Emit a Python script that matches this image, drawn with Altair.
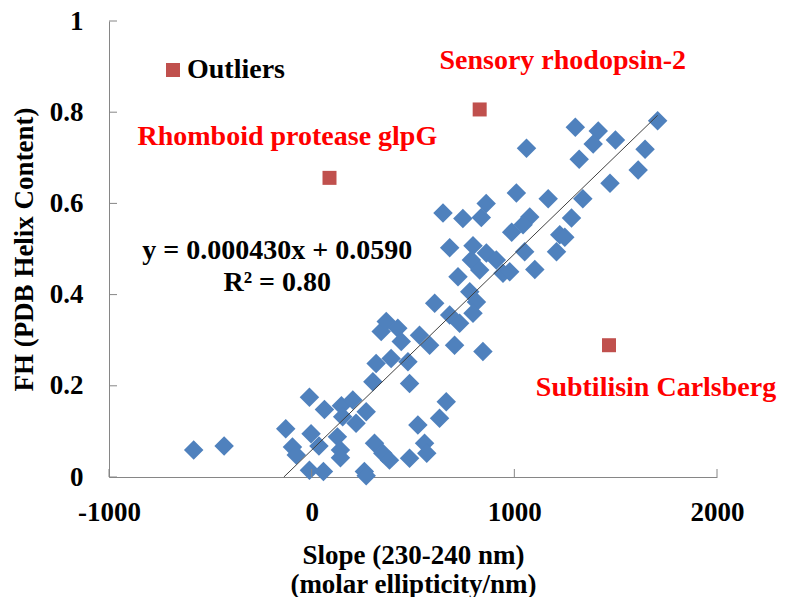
import altair as alt
import pandas as pd

# ---- data ----
slope = [-582, -432, -128, -95, -76, -11, -3, 36, -11, 58, 63, 147, 203, 269, 219, 153,
         127, 142, 142, 260, 269, 310, 351, 384, 483, 557, 568, 524, 631, 664, 302, 483,
         318, 392, 475, 343, 368, 425, 442, 532, 582, 705, 845, 607, 780, 813, 681, 730,
         796, 648, 746, 861, 837, 987, 681, 796, 862, 911, 788, 829, 944, 722, 1707, 1301,
         1414, 1389, 1499, 1645, 1060, 1320, 1611, 1472, 1010, 1167, 1338, 1282, 1076, 1043,
         1224, 1249, 1208, 1051, 1101, 977]
helix = [0.059, 0.068, 0.106, 0.066, 0.048, 0.175, 0.095, 0.068, 0.015, 0.012, 0.148, 0.156,
         0.169, 0.143, 0.118, 0.132, 0.088, 0.059, 0.042, 0.012, 0.003, 0.074, 0.052, 0.037,
         0.041, 0.074, 0.052, 0.114, 0.129, 0.165, 0.209, 0.205, 0.249, 0.260, 0.253, 0.319,
         0.341, 0.326, 0.297, 0.311, 0.289, 0.289, 0.275, 0.381, 0.406, 0.384, 0.355, 0.337,
         0.359, 0.579, 0.567, 0.600, 0.569, 0.537, 0.503, 0.507, 0.491, 0.476, 0.476, 0.454,
         0.447, 0.439, 0.781, 0.767, 0.759, 0.730, 0.739, 0.719, 0.721, 0.697, 0.673, 0.644,
         0.623, 0.610, 0.610, 0.568, 0.570, 0.553, 0.531, 0.526, 0.494, 0.494, 0.455, 0.450]

outlier_names = ["Rhomboid protease glpG", "Sensory rhodopsin-2", "Subtilisin Carlsberg"]
outlier_slope = [88, 829, 1467]
outlier_helix = [0.656, 0.806, 0.289]

# label anchors (data units)
label_text = ["Sensory rhodopsin-2", "Rhomboid protease glpG", "Subtilisin Carlsberg"]
label_x = [1239, -120, 1699]
label_y = [0.912, 0.746, 0.195]

eq_text = ["y = 0.000430x + 0.0590", "R² = 0.80"]
eq_x = [-170, -170]
eq_y = [0.496, 0.425]

coef = [0.000430, 0.0590]
x_ticks = [-1000, 0, 1000, 2000]
y_ticks = [0, 0.2, 0.4, 0.6, 0.8, 1.0]

FONT = "Liberation Serif"
W, H = 608, 456

pts = pd.DataFrame({"slope": slope, "helix": helix})
outl = pd.DataFrame({"slope": outlier_slope, "helix": outlier_helix,
                     "name": outlier_names, "series": ["Outliers"] * 3})
labels = pd.DataFrame({"x": label_x, "y": label_y, "t": label_text})
eqs = pd.DataFrame({"x": eq_x, "y": eq_y, "t": eq_text})
x_start = max(min(slope), -coef[1] / coef[0])
x_end = max(slope)
trend = pd.DataFrame({"slope": [x_start, x_end],
                      "helix": [coef[0] * x_start + coef[1], coef[0] * x_end + coef[1]]})
xt = pd.DataFrame({"v": x_ticks})
yt = pd.DataFrame({"v": y_ticks})

xscale = alt.Scale(domain=[-1000, 2000], nice=False, zero=False)
yscale = alt.Scale(domain=[0, 1], nice=False, zero=False)

xaxis = alt.Axis(values=x_ticks, labelExpr="'' + datum.value", ticks=False, tickSize=0,
                 labelFlush=False, labelPadding=22,
                 title=["Slope (230-240 nm)", "(molar ellipticity/nm)"],
                 titleY=65, titleBaseline="top", titleLineHeight=29)
yaxis = alt.Axis(values=y_ticks, format=".1~f", ticks=False, tickSize=0, labelPadding=26,
                 labelFlush=False,
                 title="FH (PDB Helix Content)", titleX=-85, titleY=H / 2,
                 titleAngle=270, titleAlign="center", titleBaseline="middle")

base_pts = alt.Chart(pts).mark_point(shape="diamond", filled=True, size=380, opacity=1,
                                     color="#4f81bd").encode(
    x=alt.X("slope:Q", scale=xscale, axis=xaxis),
    y=alt.Y("helix:Q", scale=yscale, axis=yaxis),
)

outl_layer = alt.Chart(outl).mark_square(size=196, opacity=1).encode(
    x=alt.X("slope:Q", scale=xscale),
    y=alt.Y("helix:Q", scale=yscale),
    color=alt.Color("series:N",
                    scale=alt.Scale(domain=["Outliers"], range=["#c0504d"]),
                    legend=alt.Legend(title=None, orient="none", legendX=50, legendY=35,
                                      symbolType="square", symbolSize=196, padding=0,
                                      labelOffset=0, labelFont=FONT, labelFontSize=28,
                                      labelFontWeight="bold", labelColor="black",
                                      symbolOpacity=1, symbolStrokeWidth=0)),
)

trend_layer = alt.Chart(trend).mark_line(color="#404040", strokeWidth=1).encode(
    x=alt.X("slope:Q", scale=xscale),
    y=alt.Y("helix:Q", scale=yscale),
)

label_layer = alt.Chart(labels).mark_text(font=FONT, fontSize=28, fontWeight="bold",
                                          color="#ff0000", align="center",
                                          baseline="middle").encode(
    x=alt.X("x:Q", scale=xscale), y=alt.Y("y:Q", scale=yscale), text="t:N")

eq_layer = alt.Chart(eqs).mark_text(font=FONT, fontSize=28, fontWeight="bold",
                                    color="black", align="center",
                                    baseline="middle").encode(
    x=alt.X("x:Q", scale=xscale), y=alt.Y("y:Q", scale=yscale), text="t:N")

xtick_layer = alt.Chart(xt).mark_rule(color="#868686", strokeWidth=1).encode(
    x=alt.X("v:Q", scale=xscale), y=alt.value(H - 8), y2=alt.value(H))
ytick_layer = alt.Chart(yt).mark_rule(color="#868686", strokeWidth=1).encode(
    y=alt.Y("v:Q", scale=yscale), x=alt.value(0), x2=alt.value(8))

chart = alt.layer(
    base_pts, outl_layer, trend_layer, xtick_layer, ytick_layer, label_layer, eq_layer
).properties(
    width=W, height=H,
    padding={"left": 101, "top": 13, "right": 62, "bottom": 120},
    autosize=alt.AutoSizeParams(type="none"),
).configure_view(stroke=None).configure_axis(
    grid=False, domainColor="#868686", domainWidth=1,
    labelFont=FONT, labelFontSize=27, labelFontWeight="bold", labelColor="black",
    titleFont=FONT, titleFontSize=27, titleFontWeight="bold", titleColor="black",
)

chart.save("out.html", embed_options={"renderer": "svg", "actions": False})
